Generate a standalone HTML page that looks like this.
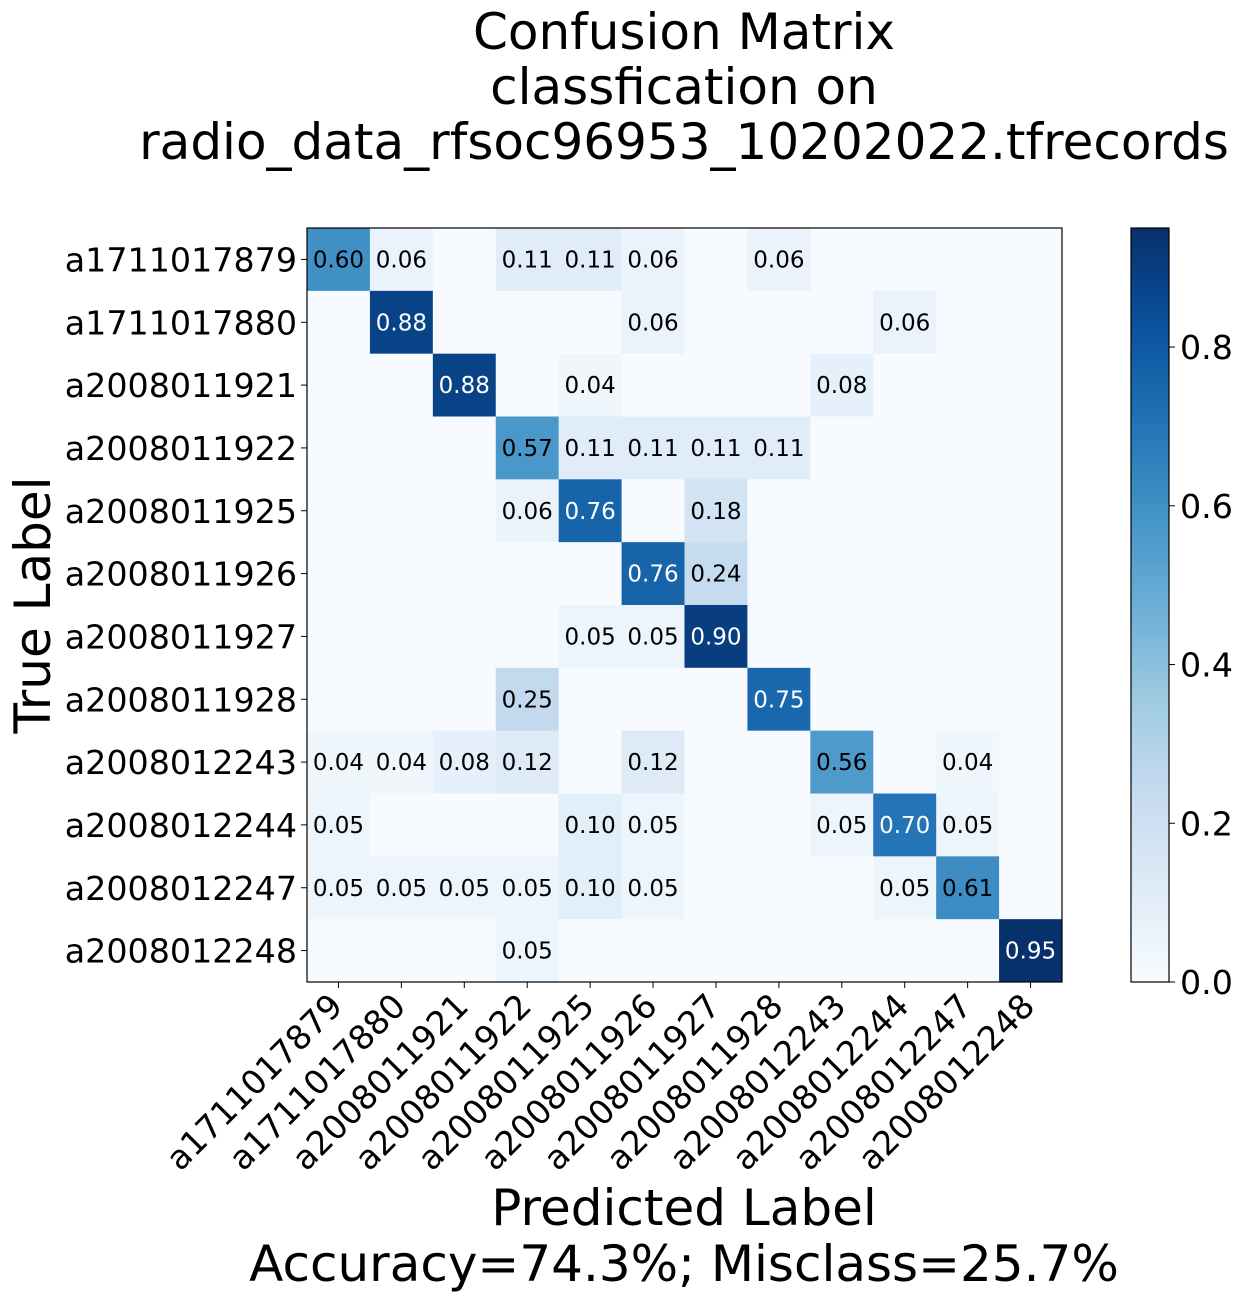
<!DOCTYPE html>
<html><head><meta charset="utf-8"><style>body{margin:0;background:#fff}svg{display:block;font-family:"DejaVu Sans","Liberation Sans",sans-serif}</style></head>
<body>
<svg id="chart" width="1239" height="1299" xmlns="http://www.w3.org/2000/svg">
<defs><linearGradient id="cbgrad" x1="0" y1="1" x2="0" y2="0">
<stop offset="0" stop-color="#f7fbff"/><stop offset="0.125" stop-color="#deebf7"/><stop offset="0.25" stop-color="#c6dbef"/><stop offset="0.375" stop-color="#9ecae1"/><stop offset="0.5" stop-color="#6baed6"/><stop offset="0.625" stop-color="#4292c6"/><stop offset="0.75" stop-color="#2171b5"/><stop offset="0.875" stop-color="#08519c"/><stop offset="1" stop-color="#08306b"/></linearGradient></defs>
<g font-size="50" text-anchor="middle" fill="#000">
<text x="684" y="49">Confusion Matrix</text>
<text x="684" y="104">classfication on</text>
<text x="684" y="159">radio_data_rfsoc96953_10202022.tfrecords</text>
</g>
<g id="cells"></g>
<rect x="307" y="228" width="755" height="754" fill="none" stroke="#000" stroke-width="1.2"/>
<g id="ticks"></g>
<text x="0" y="0" font-size="50" text-anchor="middle" transform="translate(50,605) rotate(-90)">True Label</text>
<text x="684" y="1225" font-size="50" text-anchor="middle">Predicted Label</text>
<text x="684" y="1281" font-size="50" text-anchor="middle">Accuracy=74.3%; Misclass=25.7%</text>
<rect x="1131" y="228" width="38" height="754" fill="url(#cbgrad)" stroke="#000" stroke-width="1.2"/>
<g id="cbticks"></g>
</svg>
<script>
const labels = ["a1711017879","a1711017880","a2008011921","a2008011922","a2008011925","a2008011926","a2008011927","a2008011928","a2008012243","a2008012244","a2008012247","a2008012248"];
const matrix = [
[0.60,0.06,0,0.11,0.11,0.06,0,0.06,0,0,0,0],
[0,0.88,0,0,0,0.06,0,0,0,0.06,0,0],
[0,0,0.88,0,0.04,0,0,0,0.08,0,0,0],
[0,0,0,0.57,0.11,0.11,0.11,0.11,0,0,0,0],
[0,0,0,0.06,0.76,0,0.18,0,0,0,0,0],
[0,0,0,0,0,0.76,0.24,0,0,0,0,0],
[0,0,0,0,0.05,0.05,0.90,0,0,0,0,0],
[0,0,0,0.25,0,0,0,0.75,0,0,0,0],
[0.04,0.04,0.08,0.12,0,0.12,0,0,0.56,0,0.04,0],
[0.05,0,0,0,0.10,0.05,0,0,0.05,0.70,0.05,0],
[0.05,0.05,0.05,0.05,0.10,0.05,0,0,0,0.05,0.61,0],
[0,0,0,0.05,0,0,0,0,0,0,0,0.95]];
const cbTicks = [0,0.2,0.4,0.6,0.8];
const NS="http://www.w3.org/2000/svg";
const X0=307,Y0=228,W=755,H=754,n=labels.length,cw=W/n,ch=H/n;
let vmax=0; matrix.forEach(r=>r.forEach(v=>{if(v>vmax)vmax=v;}));
const stops=["#f7fbff","#deebf7","#c6dbef","#9ecae1","#6baed6","#4292c6","#2171b5","#08519c","#08306b"].map(h=>[1,3,5].map(i=>parseInt(h.substr(i,2),16)));
function blues(t){t=Math.max(0,Math.min(1,t));const p=t*8,i=Math.min(7,Math.floor(p)),f=p-i;const c=stops[i].map((v,k)=>Math.round(v+(stops[i+1][k]-v)*f));return `rgb(${c})`;}
const xs=i=>X0+cw*(i+0.5), ys=i=>Y0+ch*(i+0.5);
function mk(tag,attrs,parent){const e=document.createElementNS(NS,tag);for(const k in attrs)e.setAttribute(k,attrs[k]);parent.appendChild(e);return e;}
const cells=document.getElementById('cells');
matrix.forEach((row,r)=>row.forEach((v,c)=>{
 const rect=mk('rect',{x:X0+c*cw,y:Y0+r*ch,width:cw+0.5,height:ch+0.5,fill:blues(v/vmax)},cells);
 
 
 if(v>0){const t=mk('text',{x:xs(c),y:ys(r)+8,'font-size':23,'text-anchor':'middle',fill:v>vmax/1.5?'#fff':'#000'},cells);
 t.textContent=v.toFixed(2);
 
 }
}));
const tk=document.getElementById('ticks');
labels.forEach((l,i)=>{
 mk('line',{x1:X0,x2:X0-6,y1:ys(i),y2:ys(i),stroke:'#000'},tk);
 const t=mk('text',{x:297,y:ys(i)+12,'font-size':33.3,'text-anchor':'end'},tk);t.textContent=l;
 
 
 mk('line',{x1:xs(i),x2:xs(i),y1:Y0+H,y2:Y0+H+6,stroke:'#000'},tk);
 const u=mk('text',{x:0,y:0,'font-size':33.3,'text-anchor':'end',transform:`translate(${xs(i)+6},${Y0+H+26}) rotate(-45)`},tk);u.textContent=l;
 
 
});
const cb=document.getElementById('cbticks');
cbTicks.forEach(v=>{const y=Y0+H-v/vmax*H;
 mk('line',{x1:1169,x2:1175,y1:y,y2:y,stroke:'#000'},cb);
 const t=mk('text',{x:1180,y:y+12,'font-size':33.3},cb);t.textContent=v.toFixed(1);
 
 });
</script>
</body></html>
